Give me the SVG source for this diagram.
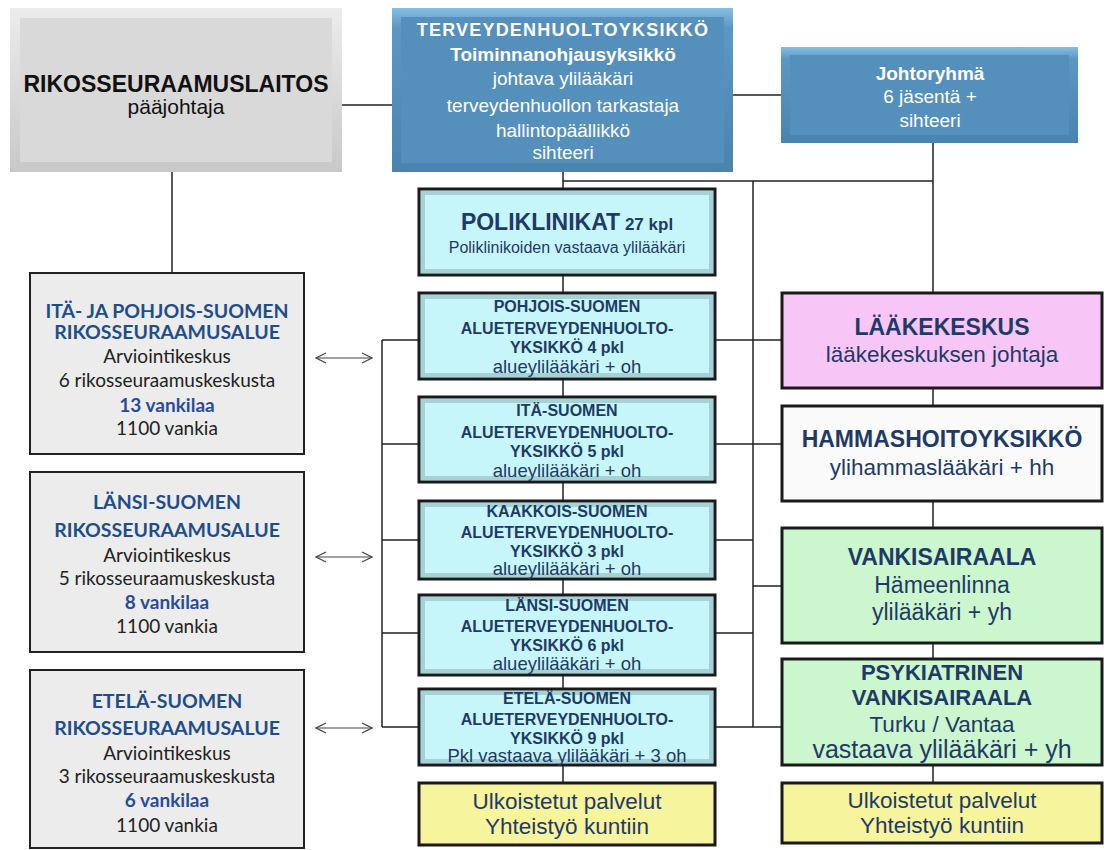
<svg xmlns="http://www.w3.org/2000/svg" width="1104" height="850" viewBox="0 0 1104 850">
<defs>
<linearGradient id="gGray" x1="0" y1="0" x2="0" y2="1"><stop offset="0" stop-color="#ececec"/><stop offset="1" stop-color="#c8c8c8"/></linearGradient>
<linearGradient id="gBlue" x1="0" y1="0" x2="0" y2="1"><stop offset="0" stop-color="#86bde3"/><stop offset="0.12" stop-color="#5d97c4"/><stop offset="1" stop-color="#4b83af"/></linearGradient>
<marker id="oa" viewBox="0 0 12 12" refX="11" refY="6" markerWidth="12" markerHeight="12" markerUnits="userSpaceOnUse" orient="auto-start-reverse"><path d="M1,1 L11,6 L1,11" fill="none" stroke="#444" stroke-width="1.2"/></marker>
</defs>
<style>
.ln{stroke:#222;stroke-width:1.5;fill:none}
.ar{stroke:#444;stroke-width:1.2;fill:none}
.cy{fill:#c6f6f9;stroke:#1a1a1a;stroke-width:3}
.glow{fill:none;stroke:#7fa6aa;stroke-width:4;opacity:.45}
.lb{fill:#ececec;stroke:#222;stroke-width:2}
.rb{stroke:#1a1a1a;stroke-width:3}
.a{font-family:"Liberation Sans",Arial,sans-serif;text-anchor:middle}
.c{font-family:Lato,"Open Sans",sans-serif;text-anchor:middle}
.b{font-weight:bold}
.w{fill:#ffffff}
.dk{fill:#1f3a66}
.k{fill:#111}
.lt{fill:#1f4d8a;font-weight:bold;font-size:19.5px}
.lv{fill:#2a4a9a;font-weight:bold}
.lk{fill:#222}
.t1{font-size:16px;font-weight:bold}
.t2{font-size:18.5px}
</style>

<g id="connectors">
<line class="ln" x1="342" y1="105" x2="392" y2="105"/>
<line class="ln" x1="733" y1="95" x2="781" y2="95"/>
<line class="ln" x1="172" y1="172" x2="172" y2="273"/>
<polyline class="ln" points="563,172 563,181 933,181"/>
<line class="ln" x1="933" y1="143" x2="933" y2="293"/>
<line class="ln" x1="563" y1="181" x2="563" y2="189"/>
<line class="ln" x1="563" y1="275" x2="563" y2="293"/>
<line class="ln" x1="563" y1="379" x2="563" y2="397"/>
<line class="ln" x1="563" y1="482" x2="563" y2="501"/>
<line class="ln" x1="563" y1="579" x2="563" y2="595"/>
<line class="ln" x1="563" y1="675" x2="563" y2="689"/>
<line class="ln" x1="563" y1="765" x2="563" y2="783"/>
<line class="ln" x1="753" y1="181" x2="753" y2="727"/>
<line class="ln" x1="715" y1="340" x2="782" y2="340"/>
<line class="ln" x1="715" y1="444" x2="782" y2="444"/>
<line class="ln" x1="715" y1="540" x2="753" y2="540"/>
<line class="ln" x1="753" y1="586" x2="782" y2="586"/>
<line class="ln" x1="715" y1="633" x2="753" y2="633"/>
<line class="ln" x1="715" y1="727" x2="782" y2="727"/>
<line class="ln" x1="382" y1="340" x2="382" y2="727"/>
<line class="ln" x1="382" y1="340" x2="419" y2="340"/>
<line class="ln" x1="382" y1="444" x2="419" y2="444"/>
<line class="ln" x1="382" y1="540" x2="419" y2="540"/>
<line class="ln" x1="382" y1="633" x2="419" y2="633"/>
<line class="ln" x1="382" y1="727" x2="419" y2="727"/>
<line class="ln" x1="933" y1="388" x2="933" y2="406"/>
<line class="ln" x1="933" y1="501" x2="933" y2="528"/>
<line class="ln" x1="933" y1="643" x2="933" y2="659"/>
<line class="ln" x1="933" y1="765" x2="933" y2="783"/>
<line class="ar" x1="316" y1="358" x2="372" y2="358" marker-start="url(#oa)" marker-end="url(#oa)"/>
<line class="ar" x1="316" y1="557" x2="372" y2="557" marker-start="url(#oa)" marker-end="url(#oa)"/>
<line class="ar" x1="316" y1="728" x2="372" y2="728" marker-start="url(#oa)" marker-end="url(#oa)"/>
</g>

<g id="rikosseuraamuslaitos">
<rect x="10" y="8" width="332" height="164" fill="url(#gGray)"/>
<rect x="20" y="18" width="312" height="144" fill="#d9d9d9"/>
<text class="a b k" x="176" y="92" font-size="23">RIKOSSEURAAMUSLAITOS</text>
<text class="a k" x="176" y="114" font-size="21">pääjohtaja</text>
</g>

<g id="terveydenhuoltoyksikko">
<rect x="392" y="8" width="341" height="164" fill="url(#gBlue)"/>
<rect x="401" y="17" width="323" height="146" fill="#5590bd"/>
<text class="a b w" x="563" y="36" font-size="18" letter-spacing="1.2">TERVEYDENHUOLTOYKSIKKÖ</text>
<text class="a b w" x="563" y="61" font-size="19">Toiminnanohjausyksikkö</text>
<text class="a w" x="563" y="85" font-size="19">johtava ylilääkäri</text>
<text class="a w" x="563" y="112" font-size="19">terveydenhuollon tarkastaja</text>
<text class="a w" x="563" y="137" font-size="19">hallintopäällikkö</text>
<text class="a w" x="563" y="159" font-size="19">sihteeri</text>
</g>

<g id="johtoryhma">
<rect x="781" y="47" width="297" height="96" fill="url(#gBlue)"/>
<rect x="790" y="55" width="279" height="80" fill="#5590bd"/>
<text class="a b w" x="930" y="80" font-size="19">Johtoryhmä</text>
<text class="a w" x="930" y="103" font-size="19">6 jäsentä +</text>
<text class="a w" x="930" y="127" font-size="19">sihteeri</text>
</g>

<g id="poliklinikat">
<rect class="cy" x="419" y="189" width="296" height="86"/>
<rect class="glow" x="423" y="193" width="288" height="78"/>
<text class="a b dk" x="567" y="230"><tspan font-size="23">POLIKLINIKAT</tspan><tspan font-size="17"> 27 kpl</tspan></text>
<text class="a dk" x="567" y="253" font-size="16">Poliklinikoiden vastaava ylilääkäri</text>
</g>

<g id="pohjois-suomen-aty">
<rect class="cy" x="419" y="293" width="296" height="86"/>
<rect class="glow" x="423" y="297" width="288" height="78"/>
<text class="a t1 dk" x="567" y="312">POHJOIS-SUOMEN</text>
<text class="a t1 dk" x="567" y="334">ALUETERVEYDENHUOLTO-</text>
<text class="a t1 dk" x="567" y="353">YKSIKKÖ 4 pkl</text>
<text class="a t2 dk" x="567" y="373">alueylilääkäri + oh</text>
</g>

<g id="ita-suomen-aty">
<rect class="cy" x="419" y="397" width="296" height="85"/>
<rect class="glow" x="423" y="401" width="288" height="77"/>
<text class="a t1 dk" x="567" y="416">ITÄ-SUOMEN</text>
<text class="a t1 dk" x="567" y="438">ALUETERVEYDENHUOLTO-</text>
<text class="a t1 dk" x="567" y="457">YKSIKKÖ 5 pkl</text>
<text class="a t2 dk" x="567" y="477">alueylilääkäri + oh</text>
</g>

<g id="kaakkois-suomen-aty">
<rect class="cy" x="419" y="501" width="296" height="78"/>
<rect class="glow" x="423" y="505" width="288" height="70"/>
<text class="a t1 dk" x="567" y="517">KAAKKOIS-SUOMEN</text>
<text class="a t1 dk" x="567" y="538">ALUETERVEYDENHUOLTO-</text>
<text class="a t1 dk" x="567" y="557">YKSIKKÖ 3 pkl</text>
<text class="a t2 dk" x="567" y="575">alueylilääkäri + oh</text>
</g>

<g id="lansi-suomen-aty">
<rect class="cy" x="419" y="595" width="296" height="80"/>
<rect class="glow" x="423" y="599" width="288" height="72"/>
<text class="a t1 dk" x="567" y="611">LÄNSI-SUOMEN</text>
<text class="a t1 dk" x="567" y="632">ALUETERVEYDENHUOLTO-</text>
<text class="a t1 dk" x="567" y="651">YKSIKKÖ 6 pkl</text>
<text class="a t2 dk" x="567" y="670">alueylilääkäri + oh</text>
</g>

<g id="etela-suomen-aty">
<rect class="cy" x="419" y="689" width="296" height="76"/>
<rect class="glow" x="423" y="693" width="288" height="68"/>
<text class="a t1 dk" x="567" y="704">ETELÄ-SUOMEN</text>
<text class="a t1 dk" x="567" y="725">ALUETERVEYDENHUOLTO-</text>
<text class="a t1 dk" x="567" y="744">YKSIKKÖ 9 pkl</text>
<text class="a t2 dk" x="567" y="762">Pkl vastaava ylilääkäri + 3 oh</text>
</g>

<g id="ulkoistetut-1">
<rect class="rb" x="419" y="783" width="296" height="62" fill="#f6f49c"/>
<text class="a dk" x="567" y="809" font-size="22.5">Ulkoistetut palvelut</text>
<text class="a dk" x="567" y="834" font-size="22.5">Yhteistyö kuntiin</text>
</g>

<g id="laakekeskus">
<rect class="rb" x="782" y="293" width="320" height="95" fill="#f8c6f6"/>
<text class="a b dk" x="942" y="335" font-size="23">LÄÄKEKESKUS</text>
<text class="a dk" x="942" y="362" font-size="22.5">lääkekeskuksen johtaja</text>
</g>

<g id="hammashoitoyksikko">
<rect class="rb" x="782" y="406" width="320" height="95" fill="#fafafa"/>
<text class="a b dk" x="942" y="447" font-size="23">HAMMASHOITOYKSIKKÖ</text>
<text class="a dk" x="942" y="475" font-size="22.5">ylihammaslääkäri + hh</text>
</g>

<g id="vankisairaala">
<rect class="rb" x="782" y="528" width="320" height="115" fill="#ccf6cd"/>
<text class="a b dk" x="942" y="565" font-size="23">VANKISAIRAALA</text>
<text class="a dk" x="942" y="593" font-size="23">Hämeenlinna</text>
<text class="a dk" x="942" y="620" font-size="23">ylilääkäri + yh</text>
</g>

<g id="psykiatrinen-vankisairaala">
<rect class="rb" x="782" y="659" width="320" height="106" fill="#ccf6cd"/>
<text class="a b dk" x="942" y="680" font-size="22">PSYKIATRINEN</text>
<text class="a b dk" x="942" y="705" font-size="22">VANKISAIRAALA</text>
<text class="a dk" x="942" y="732" font-size="22.5">Turku / Vantaa</text>
<text class="a dk" x="942" y="758" font-size="25">vastaava ylilääkäri + yh</text>
</g>

<g id="ulkoistetut-2">
<rect class="rb" x="782" y="783" width="320" height="60" fill="#f6f49c"/>
<text class="a dk" x="942" y="808" font-size="22.5">Ulkoistetut palvelut</text>
<text class="a dk" x="942" y="833" font-size="22.5">Yhteistyö kuntiin</text>
</g>

<g id="ita-ja-pohjois-suomen">
<rect class="lb" x="30" y="273" width="274" height="181"/>
<text class="c lt" x="167" y="318">ITÄ- JA POHJOIS-SUOMEN</text>
<text class="c lt" x="167" y="339">RIKOSSEURAAMUSALUE</text>
<text class="c lk" x="167" y="363" font-size="19">Arviointikeskus</text>
<text class="c lk" x="167" y="387" font-size="19">6 rikosseuraamuskeskusta</text>
<text class="c lv" x="167" y="412" font-size="19">13 vankilaa</text>
<text class="c lk" x="167" y="435" font-size="19">1100 vankia</text>
</g>

<g id="lansi-suomen">
<rect class="lb" x="30" y="472" width="274" height="180"/>
<text class="c lt" x="167" y="509">LÄNSI-SUOMEN</text>
<text class="c lt" x="167" y="537">RIKOSSEURAAMUSALUE</text>
<text class="c lk" x="167" y="562" font-size="19">Arviointikeskus</text>
<text class="c lk" x="167" y="585" font-size="19">5 rikosseuraamuskeskusta</text>
<text class="c lv" x="167" y="609" font-size="19">8 vankilaa</text>
<text class="c lk" x="167" y="633" font-size="19">1100 vankia</text>
</g>

<g id="etela-suomen">
<rect class="lb" x="30" y="670" width="274" height="178"/>
<text class="c lt" x="167" y="708">ETELÄ-SUOMEN</text>
<text class="c lt" x="167" y="735">RIKOSSEURAAMUSALUE</text>
<text class="c lk" x="167" y="760" font-size="19">Arviointikeskus</text>
<text class="c lk" x="167" y="783" font-size="19">3 rikosseuraamuskeskusta</text>
<text class="c lv" x="167" y="807" font-size="19">6 vankilaa</text>
<text class="c lk" x="167" y="832" font-size="19">1100 vankia</text>
</g>
</svg>
